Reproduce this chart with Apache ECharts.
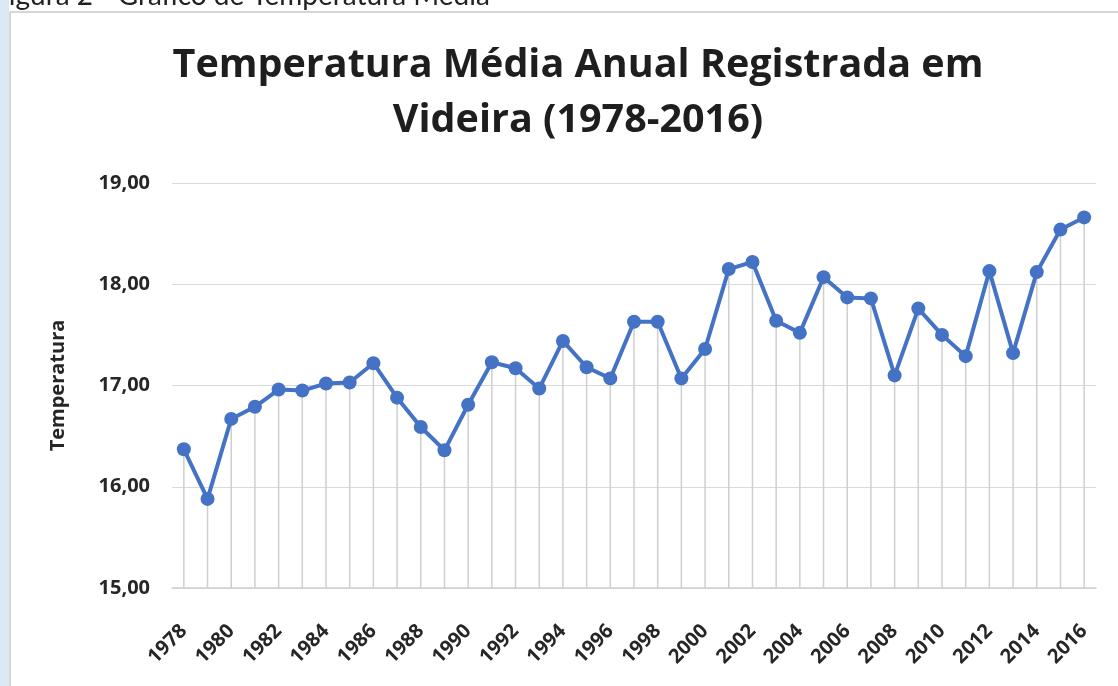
<!DOCTYPE html>
<html>
<head>
<meta charset="utf-8">
<script src="https://cdn.jsdelivr.net/npm/echarts@6/dist/echarts.min.js"></script>
<style>
  html, body { margin: 0; padding: 0; background: #fff; }
  #chart { width: 1118px; height: 686px; }
</style>
</head>
<body>
<div id="chart"></div>
<script>
const years = [
    '1978', '1979', '1980', '1981', '1982', '1983', '1984', '1985', '1986', '1987',
    '1988', '1989', '1990', '1991', '1992', '1993', '1994', '1995', '1996', '1997',
    '1998', '1999', '2000', '2001', '2002', '2003', '2004', '2005', '2006', '2007',
    '2008', '2009', '2010', '2011', '2012', '2013', '2014', '2015', '2016'
];
const temperatures = [
    16.37, 15.88, 16.67, 16.79, 16.96, 16.95, 17.02, 17.03, 17.22, 16.88,
    16.59, 16.36, 16.81, 17.23, 17.17, 16.97, 17.44, 17.18, 17.07, 17.63,
    17.63, 17.07, 17.36, 18.15, 18.22, 17.64, 17.52, 18.07, 17.87, 17.86,
    17.10, 17.76, 17.50, 17.29, 18.13, 17.32, 18.12, 18.54, 18.66
];
const yTicks = [15, 16, 17, 18, 19];

const LINE_BLUE = '#4472C4';
const LABEL_FONT = "'Open Sans', 'Noto Sans', sans-serif";

document.addEventListener('DOMContentLoaded', () => {
    let chart = echarts.init(document.getElementById('chart'));
    let option = {
        animation: false,
        backgroundColor: '#fff',
        title: {
            text: 'Temperatura Média Anual Registrada em\nVideira (1978-2016)',
            left: 573,
            top: 33,
            textAlign: 'center',
            textStyle: {
                fontFamily: LABEL_FONT,
                fontWeight: 'bold',
                fontSize: 39.5,
                lineHeight: 55,
                color: '#1e1e1e'
            }
        },
        graphic: [
            // light blue page strip on the left
            {type: 'rect', shape: {x: 0, y: 0, width: 9, height: 686}, style: {fill: '#dbe9f6'}, silent: true},
            // chart box border
            {type: 'line', shape: {x1: 10, y1: 12, x2: 10, y2: 686}, style: {stroke: '#c8c8c8', lineWidth: 1.5}, silent: true},
            {type: 'line', shape: {x1: 10, y1: 12, x2: 1118, y2: 12}, style: {stroke: '#c8c8c8', lineWidth: 1.5}, silent: true},
            // caption of the document, cut off at the top
            {
                type: 'text',
                left: -7,
                top: -18,
                style: {
                    text: 'Figura 2 - Gráfico de Temperatura Média',
                    font: "28px 'Lato', sans-serif",
                    fill: '#222'
                },
                silent: true
            }
        ],
        grid: {
            left: 172,
            right: 22,
            top: 183,
            bottom: 98
        },
        xAxis: {
            type: 'category',
            data: years,
            boundaryGap: true,
            axisLine: {lineStyle: {color: '#d0d0d0', width: 1.5}},
            axisTick: {show: false},
            axisLabel: {
                interval: 1,
                rotate: 45,
                margin: 40,
                fontFamily: LABEL_FONT,
                fontWeight: 'bold',
                fontSize: 20,
                color: '#262626'
            }
        },
        yAxis: {
            type: 'value',
            min: yTicks[0],
            max: yTicks[yTicks.length - 1],
            interval: 1,
            name: 'Temperatura',
            nameLocation: 'middle',
            nameGap: 104,
            nameRotate: 90,
            nameTextStyle: {
                fontFamily: LABEL_FONT,
                fontWeight: 'bold',
                fontSize: 20,
                color: '#262626'
            },
            axisLine: {show: false},
            axisTick: {show: false},
            splitLine: {lineStyle: {color: '#d9d9d9', width: 1.2}},
            axisLabel: {
                margin: 22,
                fontFamily: LABEL_FONT,
                fontWeight: 'bold',
                fontSize: 20,
                color: '#262626',
                formatter: function (value) {
                    return value.toFixed(2).replace('.', ',');
                }
            }
        },
        series: [
            {
                // drop lines from each point to the axis
                name: 'drop',
                type: 'bar',
                data: temperatures,
                barWidth: 1.5,
                clip: true,
                silent: true,
                itemStyle: {color: '#cfcfcf'},
                z: 1
            },
            {
                name: 'Temperatura',
                type: 'line',
                data: temperatures,
                symbol: 'circle',
                symbolSize: 14,
                lineStyle: {color: LINE_BLUE, width: 4},
                itemStyle: {color: LINE_BLUE},
                z: 3
            }
        ]
    };
    chart.setOption(option);
});
</script>
</body>
</html>
